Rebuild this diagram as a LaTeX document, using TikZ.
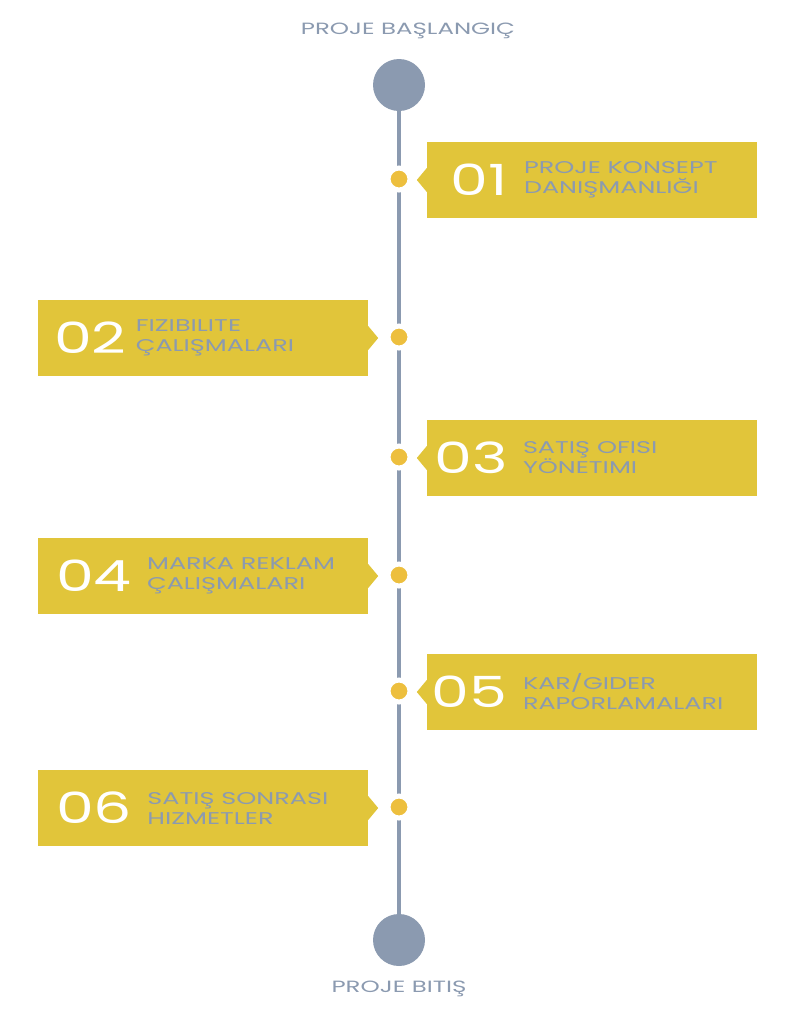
\documentclass[tikz,border=0pt]{standalone}
\usepackage{fontspec}
\setmainfont{Poppins}[FakeStretch=1.5]
\newfontfamily\numfont{Poppins}[FakeStretch=1.4]
\usetikzlibrary{positioning}

\definecolor{steel}{HTML}{8B9AB0}
\definecolor{mustard}{HTML}{E1C53A}
\definecolor{amber}{HTML}{EDBF3E}

\tikzset{
  stepbox/.style={rectangle, fill=mustard, minimum width=330pt, minimum height=76pt, inner sep=0pt},
  endcircle/.style={circle, fill=steel, minimum size=52pt, inner sep=0pt},
  dot/.style={circle, fill=amber, draw=white, line width=5pt, minimum size=22pt, inner sep=0pt},
  num/.style={font=\numfont\fontsize{43}{43}\selectfont, text=white, inner sep=0pt},
  caption/.style={font=\fontsize{17}{20}\selectfont, text=steel, align=left, inner sep=0pt, anchor=west},
  heading/.style={font=\fontsize{16.3}{16}\selectfont, text=steel, inner sep=0pt},
}

\begin{document}
\begin{tikzpicture}[x=1pt,y=-1pt]
\useasboundingbox (0,0) rectangle (785,1010);

% start and end of the project
\node (start) at (399,85) [endcircle] {};
\node (end) at (399,940) [endcircle] {};
\node (starttext) at (408,31) [heading] {PROJE BAŞLANGIÇ};
\node (endtext) at (399,989) [heading] {PROJE BITIŞ};
\draw[steel, line width=4pt] (start) -- (end);

% steps on the line
\node (d1) at (399,179) [dot] {};
\node (d2) at (399,337) [dot] {};
\node (d3) at (399,457) [dot] {};
\node (d4) at (399,575) [dot] {};
\node (d5) at (399,691) [dot] {};
\node (d6) at (399,807) [dot] {};

% boxes on the right
\node (b1) at (592,180) [stepbox] {};
\node (b3) at (592,458) [stepbox] {};
\node (b5) at (592,692) [stepbox] {};
\foreach \b in {b1,b3,b5}
  \fill[mustard] ([yshift=-12pt]\b.west) -- ([xshift=-10pt]\b.west) -- ([yshift=12pt]\b.west) -- cycle;

% boxes on the left
\node (b2) at (203,338) [stepbox] {};
\node (b4) at (203,576) [stepbox] {};
\node (b6) at (203,808) [stepbox] {};
\foreach \b in {b2,b4,b6}
  \fill[mustard] ([yshift=-12pt]\b.east) -- ([xshift=10pt]\b.east) -- ([yshift=12pt]\b.east) -- cycle;

% numbers and texts
\node (n1) [num, anchor=east] at ([xshift=81pt]b1.west) {01};
\node (t1) [caption] at ([xshift=97pt]b1.west) {PROJE KONSEPT\\DANIŞMANLIĞI};
\node (n3) [num, anchor=east] at ([xshift=81pt]b3.west) {03};
\node (t3) [caption] at ([xshift=96pt]b3.west) {SATIŞ OFISI\\YÖNETIMI};
\node (n5) [num, anchor=east] at ([xshift=81pt]b5.west) {05};
\node (t5) [caption] at ([xshift=96pt]b5.west) {KAR/GIDER\\RAPORLAMALARI};

\node (n2) [num, anchor=west] at ([xshift=16pt]b2.west) {02};
\node (t2) [caption, right=9pt of n2] {FIZIBILITE\\ÇALIŞMALARI};
\node (n4) [num, anchor=west] at ([xshift=18pt]b4.west) {04};
\node (t4) [caption, right=15pt of n4] {MARKA REKLAM\\ÇALIŞMALARI};
\node (n6) [num, anchor=west] at ([xshift=18pt]b6.west) {06};
\node (t6) [caption, right=15pt of n6] {SATIŞ SONRASI\\HIZMETLER};
\end{tikzpicture}
\end{document}
